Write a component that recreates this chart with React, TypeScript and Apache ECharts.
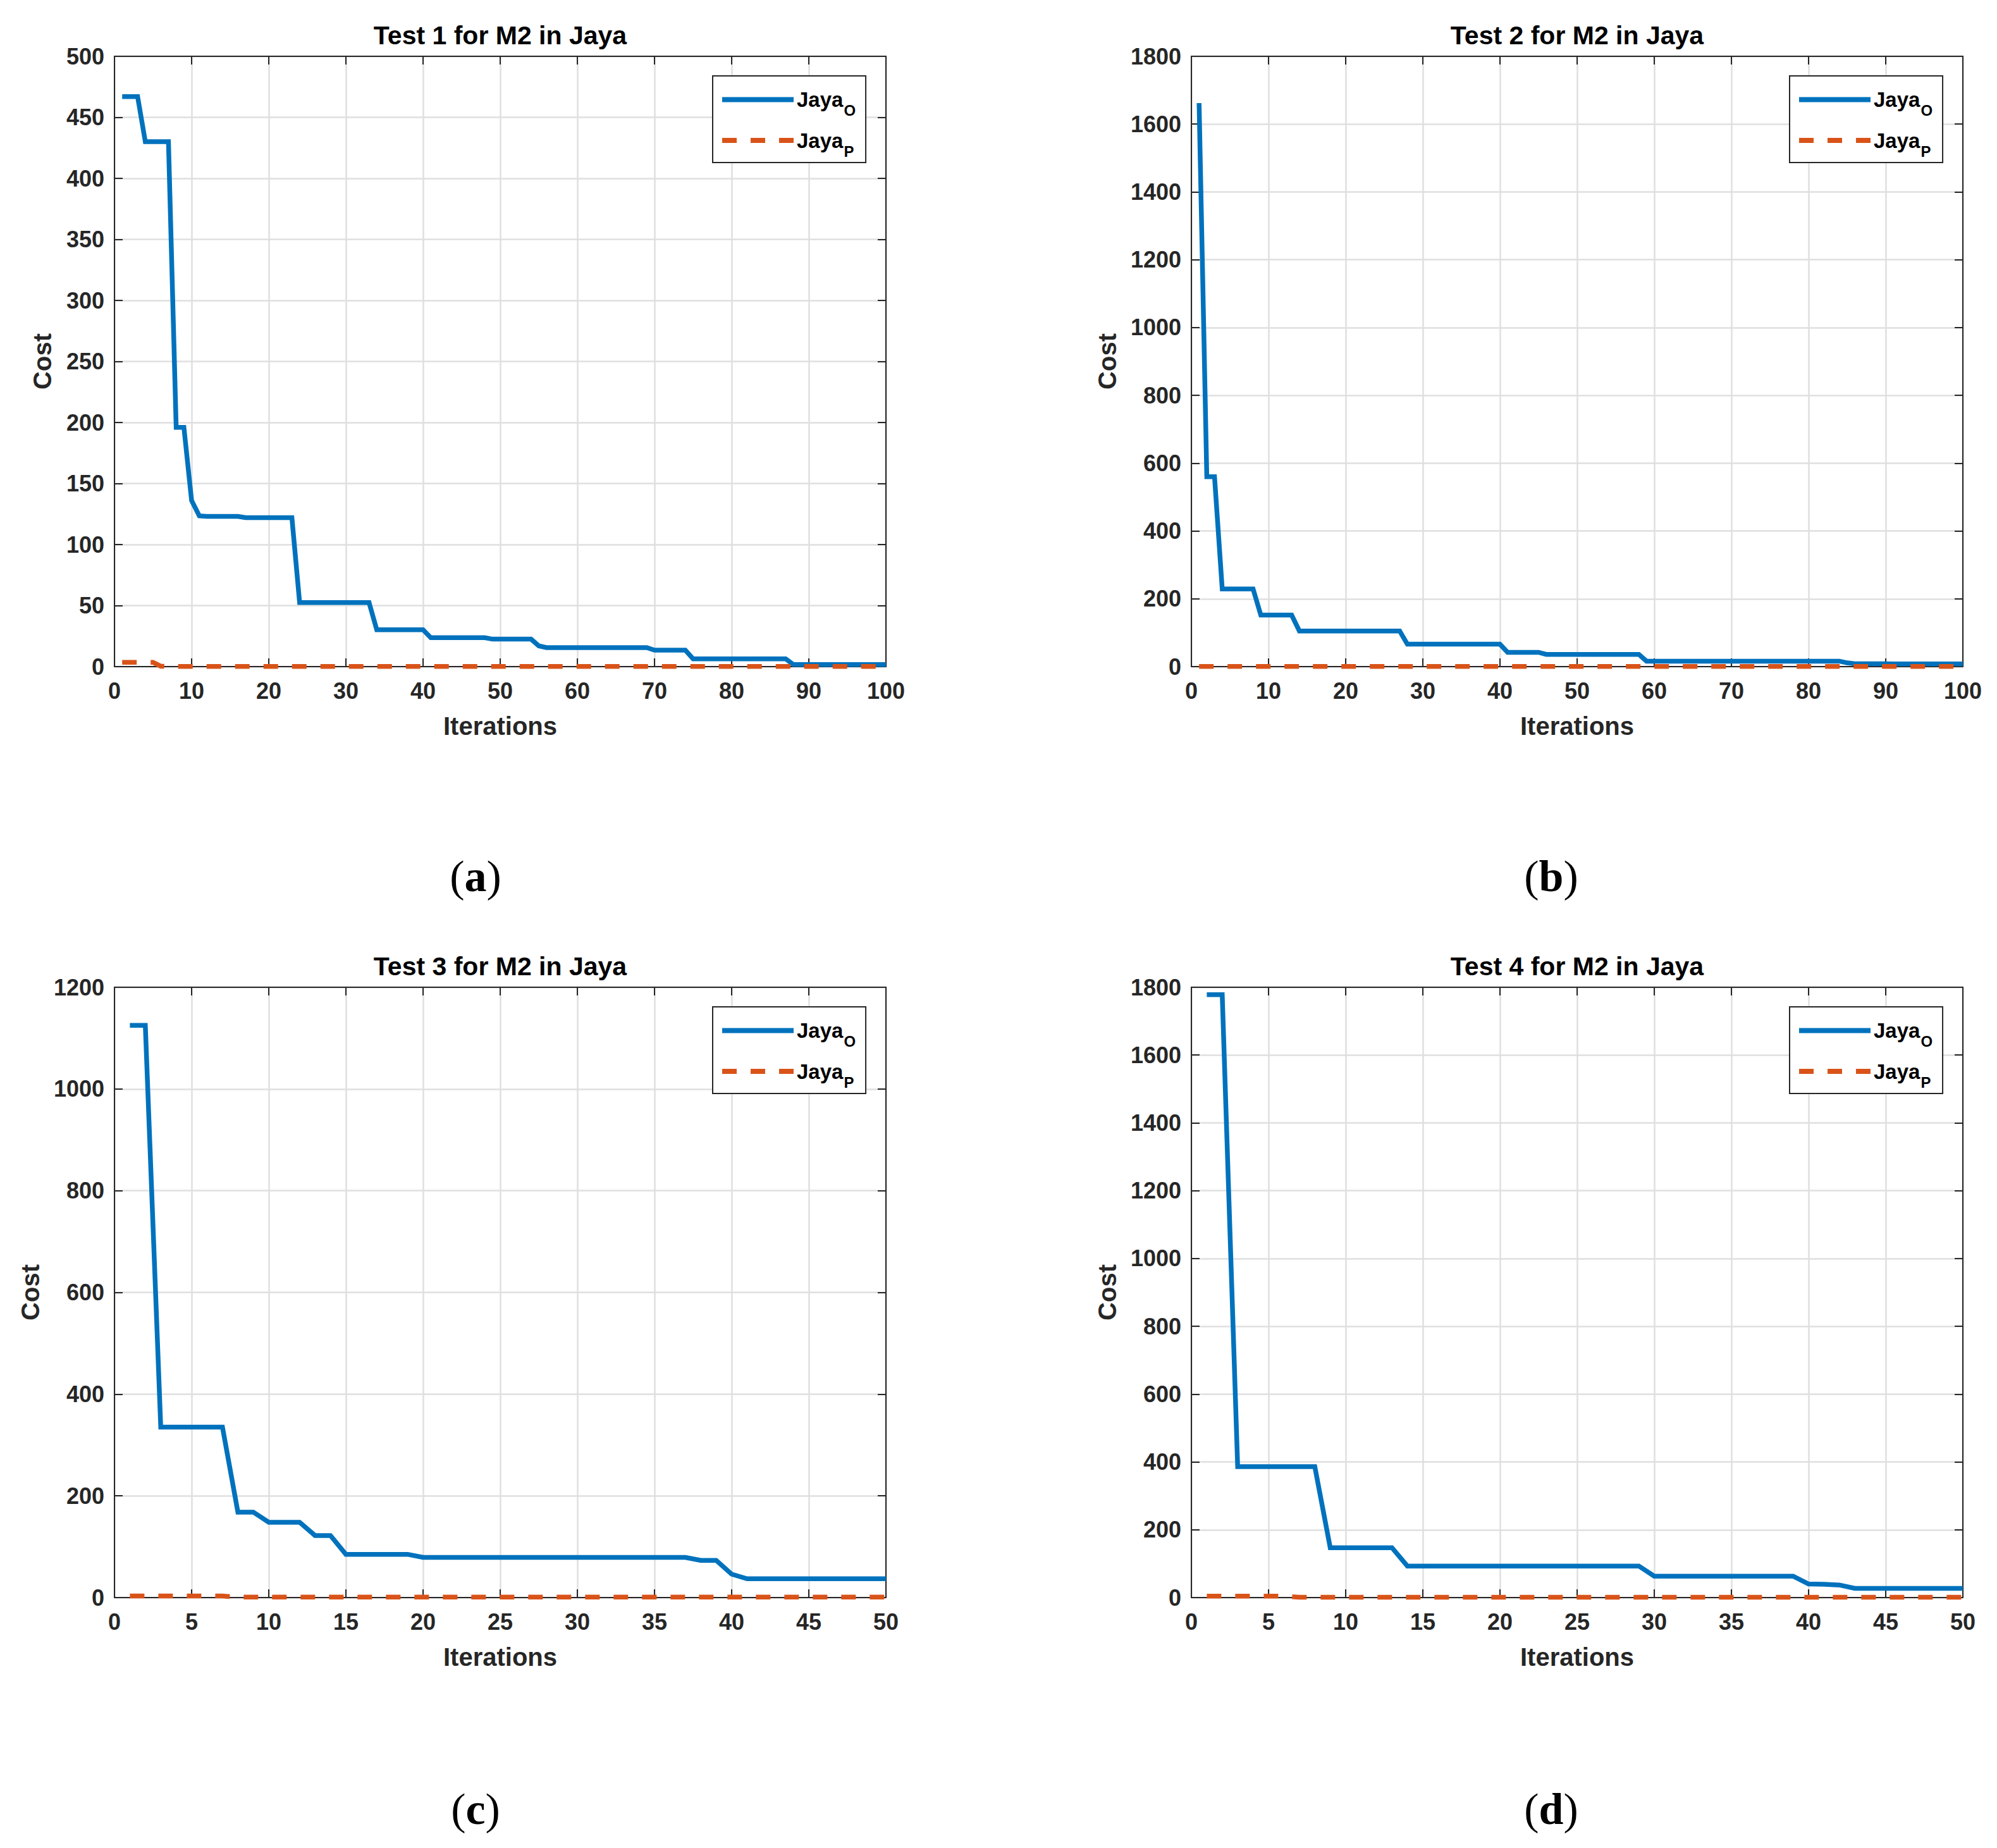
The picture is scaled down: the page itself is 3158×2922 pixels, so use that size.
import React, { useEffect, useRef } from "react";
import * as echarts from "echarts";

// ---------- data ----------
const panelTitles = [
  "Test 1 for M2 in Jaya",
  "Test 2 for M2 in Jaya",
  "Test 3 for M2 in Jaya",
  "Test 4 for M2 in Jaya",
];
const panelLetters = ["a", "b", "c", "d"];
const seriesNames = ["Jaya_O", "Jaya_P"];

const xMaxes = [100, 100, 50, 50];
const xIntervals = [10, 10, 5, 5];
const yMaxes = [500, 1800, 1200, 1800];
const yIntervals = [50, 200, 200, 200];

const test1JayaO = [
  467, 467, 467, 430, 430, 430, 430, 196, 196, 136,
  123.5, 123, 123, 123, 123, 123, 122, 122, 122, 122,
  122, 122, 122, 52.5, 52.5, 52.5, 52.5, 52.5, 52.5, 52.5,
  52.5, 52.5, 52.5, 30.2, 30.2, 30.2, 30.2, 30.2, 30.2, 30.2,
  23.7, 23.7, 23.7, 23.7, 23.7, 23.7, 23.7, 23.7, 22.5, 22.5,
  22.5, 22.5, 22.5, 22.5, 17, 15.6, 15.6, 15.6, 15.6, 15.6,
  15.6, 15.6, 15.6, 15.6, 15.6, 15.6, 15.6, 15.6, 15.6, 13.5,
  13.5, 13.5, 13.5, 13.5, 6.4, 6.4, 6.4, 6.4, 6.4, 6.4,
  6.4, 6.4, 6.4, 6.4, 6.4, 6.4, 6.4, 1.7, 1.7, 1.7,
  1.7, 1.7, 1.7, 1.7, 1.7, 1.7, 1.7, 1.7, 1.7, 1.7,
];
const test1JayaP = [
  3.5, 3.5, 3.5, 3.5, 3.5, 0.3, 0.1, 0.1, 0.1, 0.1,
  0.1, 0.1, 0.1, 0.1, 0.1, 0.1, 0.1, 0.1, 0.1, 0.1,
  0.1, 0.1, 0.1, 0.1, 0.1, 0.1, 0.1, 0.1, 0.1, 0.1,
  0.1, 0.1, 0.1, 0.1, 0.1, 0.1, 0.1, 0.1, 0.1, 0.1,
  0.1, 0.1, 0.1, 0.1, 0.1, 0.1, 0.1, 0.1, 0.1, 0.1,
  0.1, 0.1, 0.1, 0.1, 0.1, 0.1, 0.1, 0.1, 0.1, 0.1,
  0.1, 0.1, 0.1, 0.1, 0.1, 0.1, 0.1, 0.1, 0.1, 0.1,
  0.1, 0.1, 0.1, 0.1, 0.1, 0.1, 0.1, 0.1, 0.1, 0.1,
  0.1, 0.1, 0.1, 0.1, 0.1, 0.1, 0.1, 0.1, 0.1, 0.1,
  0.1, 0.1, 0.1, 0.1, 0.1, 0.1, 0.1, 0.1, 0.1, 0.1,
];

const test2JayaO = [
  1662, 560, 560, 229, 229, 229, 229, 229, 152, 152,
  152, 152, 152, 105, 105, 105, 105, 105, 105, 105,
  105, 105, 105, 105, 105, 105, 105, 66, 66, 66,
  66, 66, 66, 66, 66, 66, 66, 66, 66, 66,
  42, 42, 42, 42, 42, 36, 36, 36, 36, 36,
  36, 36, 36, 36, 36, 36, 36, 36, 16, 16,
  16, 16, 16, 16, 16, 16, 16, 16, 16, 16,
  16, 16, 16, 16, 16, 16, 16, 16, 16, 16,
  16, 16, 16, 16, 11, 8.6, 8.6, 8.6, 8.6, 8.6,
  8, 8, 8, 8, 8, 8, 8, 8, 8, 8,
];
const test2JayaP = [
  0.5, 0.5, 0.5, 0.5, 0.5, 0.5, 0.5, 0.5, 0.5, 0.5,
  0.5, 0.5, 0.5, 0.5, 0.5, 0.5, 0.5, 0.5, 0.5, 0.5,
  0.5, 0.5, 0.5, 0.5, 0.5, 0.5, 0.5, 0.5, 0.5, 0.5,
  0.5, 0.5, 0.5, 0.5, 0.5, 0.5, 0.5, 0.5, 0.5, 0.5,
  0.5, 0.5, 0.5, 0.5, 0.5, 0.5, 0.5, 0.5, 0.5, 0.5,
  0.5, 0.5, 0.5, 0.5, 0.5, 0.5, 0.5, 0.5, 0.5, 0.5,
  0.5, 0.5, 0.5, 0.5, 0.5, 0.5, 0.5, 0.5, 0.5, 0.5,
  0.5, 0.5, 0.5, 0.5, 0.5, 0.5, 0.5, 0.5, 0.5, 0.5,
  0.5, 0.5, 0.5, 0.5, 0.5, 0.5, 0.5, 0.5, 0.5, 0.5,
  0.5, 0.5, 0.5, 0.5, 0.5, 0.5, 0.5, 0.5, 0.5, 0.5,
];

const test3JayaO = [
  1125, 1125, 335, 335, 335, 335, 335, 168, 168, 148,
  148, 148, 122, 122, 85, 85, 85, 85, 85, 79,
  79, 79, 79, 79, 79, 79, 79, 79, 79, 79,
  79, 79, 79, 79, 79, 79, 79, 73, 73, 46,
  37, 37, 37, 37, 37, 37, 37, 37, 37, 37,
];
const test3JayaP = [
  3, 3, 3, 3, 3, 3, 3, 0.8, 0.8, 0.8,
  0.8, 0.8, 0.8, 0.8, 0.8, 0.8, 0.8, 0.8, 0.8, 0.8,
  0.8, 0.8, 0.8, 0.8, 0.8, 0.8, 0.8, 0.8, 0.8, 0.8,
  0.8, 0.8, 0.8, 0.8, 0.8, 0.8, 0.8, 0.8, 0.8, 0.8,
  0.8, 0.8, 0.8, 0.8, 0.8, 0.8, 0.8, 0.8, 0.8, 0.8,
];

const test4JayaO = [
  1778, 1778, 386, 386, 386, 386, 386, 386, 147, 147,
  147, 147, 147, 93, 93, 93, 93, 93, 93, 93,
  93, 93, 93, 93, 93, 93, 93, 93, 93, 63,
  63, 63, 63, 63, 63, 63, 63, 63, 63, 40,
  39, 37, 27, 27, 27, 27, 27, 27, 27, 27,
];
const test4JayaP = [
  4, 4, 4, 4, 4, 4, 1, 1, 1, 1,
  1, 1, 1, 1, 1, 1, 1, 1, 1, 1,
  1, 1, 1, 1, 1, 1, 1, 1, 1, 1,
  1, 1, 1, 1, 1, 1, 1, 1, 1, 1,
  1, 1, 1, 1, 1, 1, 1, 1, 1, 1,
];

const jayaOSeries = [test1JayaO, test2JayaO, test3JayaO, test4JayaO];
const jayaPSeries = [test1JayaP, test2JayaP, test3JayaP, test4JayaP];

// ---------- layout / style ----------
const SANS = "'Liberation Sans', Arial, Helvetica, sans-serif";
const SERIF = "'Liberation Serif', 'Times New Roman', serif";
const AXIS_COLOR = "#262626";
const GRID_COLOR = "#dfdfdf";
const BLUE = "#0072BD";
const ORANGE = "#D95319";

const gridBoxes = [
  { left: 181, top: 89 },
  { left: 1884, top: 89 },
  { left: 181, top: 1561 },
  { left: 1884, top: 1561 },
];
const GRID_W = 1220;
const GRID_H = 965;
const yNameGaps = [94, 113, 113, 113];
const letterPos = [
  { x: 752, y: 1385 },
  { x: 2453, y: 1385 },
  { x: 752, y: 2860 },
  { x: 2453, y: 2860 },
];

const toPairs = (vals: number[]) => vals.map((v, i) => [i + 1, v]);

function buildOption() {
  const grid: any[] = [];
  const xAxis: any[] = [];
  const yAxis: any[] = [];
  const series: any[] = [];
  const title: any[] = [];
  const legend: any[] = [];
  const graphic: any[] = [];

  const tickStyle = { color: AXIS_COLOR, width: 2 };
  const plain = (v: number) => String(v);

  for (let i = 0; i < 4; i++) {
    const g = gridBoxes[i];
    grid.push({
      left: g.left,
      top: g.top,
      width: GRID_W,
      height: GRID_H,
      show: false,
      containLabel: false,
    });

    const labelStyle = {
      fontSize: 36,
      fontWeight: "bold",
      color: AXIS_COLOR,
      fontFamily: SANS,
      formatter: plain,
    };

    xAxis.push({
      type: "value",
      gridIndex: i,
      position: "bottom",
      min: 0,
      max: xMaxes[i],
      interval: xIntervals[i],
      axisLine: { show: true, onZero: false, lineStyle: tickStyle },
      axisTick: { show: true, inside: true, length: 13, lineStyle: tickStyle },
      axisLabel: { ...labelStyle, margin: 20 },
      splitLine: { show: true, lineStyle: { color: GRID_COLOR, width: 2.5 } },
      name: "Iterations",
      nameLocation: "middle",
      nameGap: 74,
      nameTextStyle: {
        fontSize: 40,
        fontWeight: "bold",
        color: AXIS_COLOR,
        fontFamily: SANS,
      },
    });
    xAxis.push({
      type: "value",
      gridIndex: i,
      position: "top",
      min: 0,
      max: xMaxes[i],
      interval: xIntervals[i],
      axisLine: { show: true, onZero: false, lineStyle: tickStyle },
      axisTick: { show: true, inside: true, length: 13, lineStyle: tickStyle },
      axisLabel: { show: false },
      splitLine: { show: false },
    });
    yAxis.push({
      type: "value",
      gridIndex: i,
      position: "left",
      min: 0,
      max: yMaxes[i],
      interval: yIntervals[i],
      axisLine: { show: true, onZero: false, lineStyle: tickStyle },
      axisTick: { show: true, inside: true, length: 13, lineStyle: tickStyle },
      axisLabel: { ...labelStyle, margin: 16 },
      splitLine: { show: true, lineStyle: { color: GRID_COLOR, width: 2.5 } },
      name: "Cost",
      nameLocation: "middle",
      nameGap: yNameGaps[i],
      nameRotate: 90,
      nameTextStyle: {
        fontSize: 40,
        fontWeight: "bold",
        color: AXIS_COLOR,
        fontFamily: SANS,
      },
    });
    yAxis.push({
      type: "value",
      gridIndex: i,
      position: "right",
      min: 0,
      max: yMaxes[i],
      interval: yIntervals[i],
      axisLine: { show: true, onZero: false, lineStyle: tickStyle },
      axisTick: { show: true, inside: true, length: 13, lineStyle: tickStyle },
      axisLabel: { show: false },
      splitLine: { show: false },
    });

    series.push({
      type: "line",
      name: seriesNames[0],
      xAxisIndex: i * 2,
      yAxisIndex: i * 2,
      data: toPairs(jayaOSeries[i]),
      symbol: "none",
      showSymbol: false,
      clip: false,
      lineStyle: { color: BLUE, width: 7.5, cap: "butt", join: "miter" },
      itemStyle: { color: BLUE },
      z: 3,
    });
    series.push({
      type: "line",
      name: seriesNames[1],
      xAxisIndex: i * 2,
      yAxisIndex: i * 2,
      data: toPairs(jayaPSeries[i]),
      symbol: "none",
      showSymbol: false,
      clip: false,
      lineStyle: {
        color: ORANGE,
        width: 7.5,
        type: [23, 22],
        cap: "butt",
        join: "miter",
      },
      itemStyle: { color: ORANGE },
      z: 4,
    });

    title.push({
      text: panelTitles[i],
      left: g.left + GRID_W / 2,
      top: g.top - 54,
      textAlign: "center",
      padding: 0,
      textStyle: {
        fontSize: 41,
        fontWeight: "bold",
        color: "#000",
        fontFamily: SANS,
      },
    });

    legend.push({
      data: seriesNames,
      orient: "vertical",
      left: g.left + GRID_W - 33 - 241,
      top: g.top + 31,
      padding: [21, 16, 6, 11],
      itemWidth: 113,
      itemHeight: 40,
      itemGap: 19,
      itemTextGap: 9,
      backgroundColor: "#fff",
      borderColor: AXIS_COLOR,
      borderWidth: 2,
      borderRadius: 0,
      selectedMode: false,
      itemStyle: {
        color: "rgba(0,0,0,0)",
        borderColor: "rgba(0,0,0,0)",
        borderWidth: 0,
        opacity: 0,
      },
      lineStyle: { width: 8 },
      formatter: (name: string) => {
        const parts = name.split("_");
        return `{m|${parts[0]}}{s|${parts[1]}}`;
      },
      textStyle: {
        rich: {
          m: {
            fontSize: 33,
            fontWeight: "bold",
            color: "#000",
            fontFamily: SANS,
          },
          s: {
            fontSize: 24,
            fontWeight: "bold",
            color: "#000",
            fontFamily: SANS,
            padding: [34, 0, 0, 1],
          },
        },
      },
    });

    graphic.push({
      type: "text",
      x: letterPos[i].x,
      y: letterPos[i].y,
      style: {
        text: `{p|(}{b|${panelLetters[i]}}{p|)}`,
        rich: {
          p: { fontSize: 70, fontFamily: SERIF, fill: "#000" },
          b: { fontSize: 70, fontFamily: SERIF, fontWeight: "bold", fill: "#000" },
        },
        align: "center",
        verticalAlign: "middle",
      },
    });
  }

  return {
    animation: false,
    backgroundColor: "#ffffff",
    title,
    legend,
    grid,
    xAxis,
    yAxis,
    series,
    graphic,
  };
}

export default function App() {
  const ref = useRef<HTMLDivElement>(null);
  useEffect(() => {
    if (!ref.current) return;
    const chart = echarts.init(ref.current, undefined, { renderer: "svg" });
    chart.setOption(buildOption() as any);
    return () => chart.dispose();
  }, []);
  return (
    <div
      ref={ref}
      style={{ position: "absolute", left: 0, top: 0, width: 3158, height: 2922 }}
    />
  );
}
